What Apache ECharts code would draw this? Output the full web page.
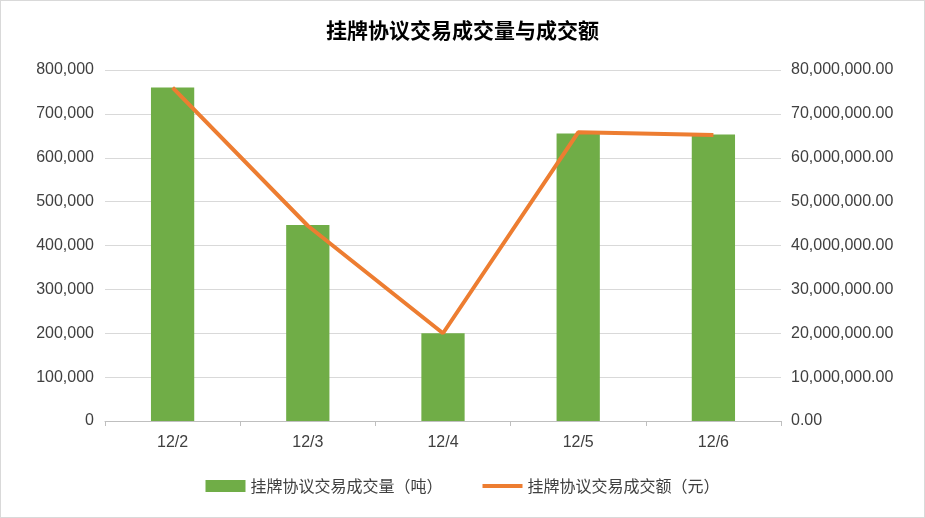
<!DOCTYPE html>
<html>
<head>
<meta charset="utf-8">
<script src="https://cdn.jsdelivr.net/npm/echarts@6/dist/echarts.min.js"></script>
<style>
html, body { margin: 0; padding: 0; background: #fff; }
#main { width: 923px; height: 516px; border: 1px solid #d9d9d9; }
</style>
</head>
<body>
<div id="main"></div>
<script>
var categories = ['12/2', '12/3', '12/4', '12/5', '12/6'];
// 挂牌协议交易成交量（吨）
var volume = [760000, 447000, 200000, 655000, 653000];
// 挂牌协议交易成交额（元）
var amount = [76000000, 44500000, 20000000, 65800000, 65200000];

var chart = echarts.init(document.getElementById('main'));
var font = '"Noto Sans CJK SC", "Microsoft YaHei", sans-serif';
chart.setOption({
    animation: false,
    color: ['#70ad47', '#ed7d31'],
    title: {
        text: '挂牌协议交易成交量与成交额',
        left: 'center',
        top: 14,
        textStyle: { fontFamily: font, fontSize: 21, fontWeight: 'bold', color: '#000' }
    },
    legend: {
        bottom: 18,
        itemGap: 40,
        itemWidth: 40,
        itemHeight: 12,
        textStyle: { fontFamily: font, fontSize: 16, color: '#404040' },
        data: [
            { name: '挂牌协议交易成交量（吨）', icon: 'rect' },
            { name: '挂牌协议交易成交额（元）', icon: 'path://M0,0 L40,0 L40,4 L0,4 Z' }
        ]
    },
    grid: { left: 104, right: 143, top: 69, bottom: 96 },
    xAxis: {
        type: 'category',
        data: categories,
        axisLine: { lineStyle: { color: '#bfbfbf' } },
        axisTick: { show: true, lineStyle: { color: '#bfbfbf' } },
        axisLabel: { color: '#404040', fontSize: 16, margin: 14 }
    },
    yAxis: [{
        type: 'value',
        min: 0, max: 800000, interval: 100000,
        axisLabel: {
            color: '#404040', fontSize: 16, margin: 11,
            formatter: function (v) { return v.toLocaleString('en-US'); }
        },
        splitLine: { lineStyle: { color: '#d9d9d9' } }
    }, {
        type: 'value',
        min: 0, max: 80000000, interval: 10000000,
        axisLabel: {
            color: '#404040', fontSize: 16, margin: 10,
            formatter: function (v) {
                return v.toLocaleString('en-US', { minimumFractionDigits: 2, maximumFractionDigits: 2 });
            }
        },
        splitLine: { show: false }
    }],
    series: [{
        name: '挂牌协议交易成交量（吨）',
        type: 'bar',
        barWidth: '32%',
        data: volume
    }, {
        name: '挂牌协议交易成交额（元）',
        type: 'line',
        yAxisIndex: 1,
        symbol: 'none',
        lineStyle: { width: 4 },
        data: amount
    }]
});
</script>
</body>
</html>
